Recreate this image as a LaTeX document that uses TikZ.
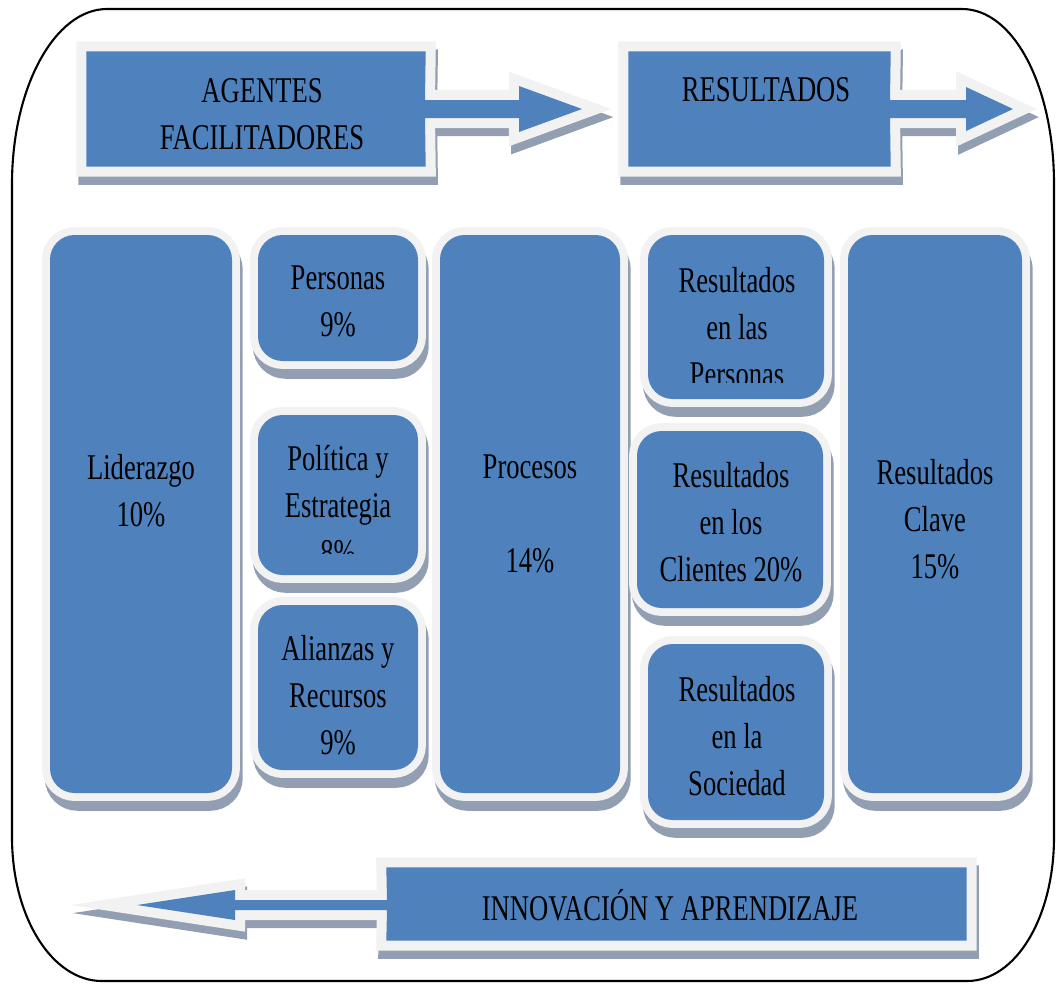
\documentclass[tikz,border=0pt]{standalone}
\usepackage{fontspec}
\setmainfont{Liberation Serif}[FakeStretch=0.735]
\definecolor{cblue}{RGB}{79,129,189}
\definecolor{cwhite}{RGB}{242,242,242}
\definecolor{cshadow}{RGB}{146,158,177}
\tikzset{
  frame/.style={draw=black, line width=0.6pt},
  txt/.style={font=\fontsize{10.3}{13.4}\selectfont, align=center, inner sep=0pt, text=black},
  wh/.style 2 args={minimum width=#1*0.1mm, minimum height=#2*0.1mm},
  card/.style={rectangle, rounded corners=7pt, inner sep=0pt, fill=cblue,
    preaction={draw=cshadow, fill=cshadow, line width=4.5pt, transform canvas={shift={(0.8pt,-2.8pt)}}},
    preaction={draw=cwhite, fill=cwhite, line width=4.5pt}},
  ban/.style={rectangle, inner sep=0pt, draw=none},
  banshadow/.style={draw=cshadow, fill=cshadow, line width=5.7pt, miter limit=20, transform canvas={shift={(0.6pt,-2.3pt)}}},
  banwhite/.style={draw=cwhite, fill=cwhite, line width=5.7pt, miter limit=20},
  banblue/.style={fill=cblue},
}
\newcommand\agshape{(ag.north west) -- (ag.north east) -- (425,100) -- (519,100) -- (519,86) -- (agtip) -- (519,132) -- (519,118) -- (425,118) -- (ag.south east) -- (ag.south west) -- cycle}
\newcommand\rsshape{(rs.north west) -- (rs.north east) -- (890,100) -- (966,100) -- (966,87) -- (rstip) -- (966,131) -- (966,118) -- (890,118) -- (rs.south east) -- (rs.south west) -- cycle}
\newcommand\inshape{(in.north east) -- (in.south east) -- (in.south west) -- (387,910) -- (235,910) -- (235,920) -- (intip) -- (235,890) -- (235,900) -- (387,900) -- (in.north west) -- cycle}
\begin{document}
\begin{tikzpicture}[x=0.1mm,y=-0.1mm]
\useasboundingbox (0,0) rectangle (1056,983);
% outer frame
\draw[frame] (12,184) .. controls (12,87) and (55,9) .. (107,9) -- (962,9)
  .. controls (1014,9) and (1054,87) .. (1054,184) -- (1054,837)
  .. controls (1054,917) and (1016,981) .. (967,981) -- (102,981)
  .. controls (52,981) and (12,917) .. (12,837) -- cycle;
% banner anchors
\node[ban, wh={338}{114}] (ag) at (256,109) {};
\node[ban, wh={261}{114}] (rs) at (759.5,109) {};
\node[ban, wh={579}{72}] (in) at (676.5,904) {};
\coordinate (agtip) at (582,109);
\coordinate (rstip) at (1013,109);
\coordinate (intip) at (137,905);
% banner shapes
\path[banshadow] \agshape;
\path[banshadow] \rsshape;
\path[banshadow] \inshape;
\path[banwhite] \agshape;
\path[banwhite] \rsshape;
\path[banwhite] \inshape;
\path[banblue] \agshape;
\path[banblue] \rsshape;
\path[banblue] \inshape;
% cards
\node[card, wh={182}{558}] (lid) at (141,514) {};
\node[card, wh={160}{126}] (per) at (338,298) {};
\node[card, wh={160}{160}] (pol) at (338,495) {};
\node[card, wh={160}{165}] (ali) at (338,687.5) {};
\node[card, wh={180}{558}] (pro) at (530,514) {};
\node[card, wh={176}{164}] (rpe) at (736,317) {};
\node[card, wh={186}{177}] (rcl) at (730,519.5) {};
\node[card, wh={176}{176}] (rso) at (736,732) {};
\node[card, wh={174}{558}] (cla) at (935,514) {};
% texts
\node[txt] (agt) at (262,114) {AGENTES\\FACILITADORES};
\node[txt] (rst) at (766,90) {RESULTADOS};
\node[txt] (int) at (670,905) {INNOVACIÓN Y APRENDIZAJE};
\node[txt] (lidt) at (141,491) {Liderazgo\\10\%};
\node[txt] (pert) at (338,301) {Personas\\9\%};
\begin{scope}
\clip (258,415) rectangle (418,553);
\node[txt] (polt) at (338,505) {Política y\\Estrategia\\8\%};
\end{scope}
\node[txt] (alit) at (338,695) {Alianzas y\\Recursos\\9\%};
\node[txt] (prot) at (530,514) {Procesos\\[13.4pt]14\%};
\begin{scope}
\clip (648,235) rectangle (824,382);
\node[txt] (rpet) at (737,327) {Resultados\\en las\\Personas};
\end{scope}
\node[txt] (rclt) at (731,522) {Resultados\\en los\\Clientes 20\%};
\node[txt] (rsot) at (737,736) {Resultados\\en la\\Sociedad};
\node[txt] (clat) at (935,519) {Resultados\\Clave\\15\%};
\end{tikzpicture}
\end{document}
